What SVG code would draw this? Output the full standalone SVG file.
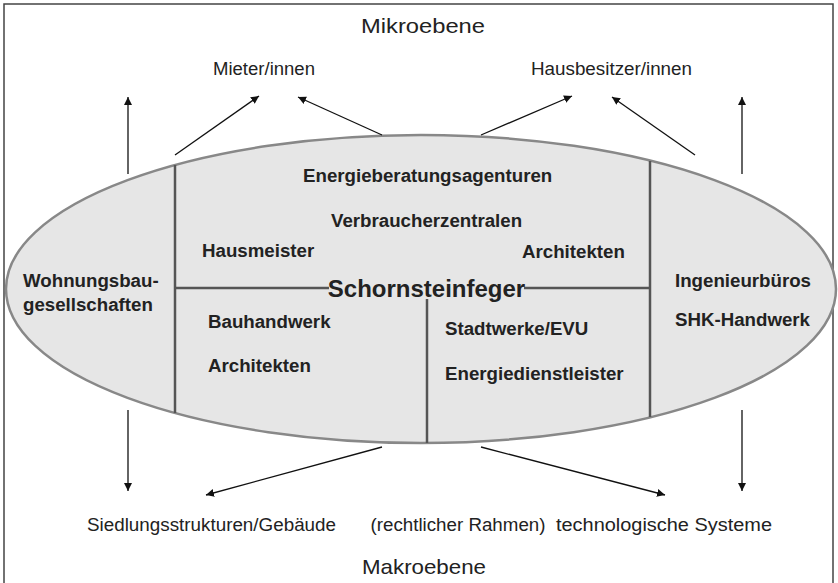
<svg xmlns="http://www.w3.org/2000/svg" width="838" height="583" viewBox="0 0 838 583">
  <defs>
    <marker id="arrow" viewBox="0 0 10 10" refX="10" refY="5" markerWidth="8" markerHeight="8" markerUnits="userSpaceOnUse" orient="auto">
      <path d="M0,0 L10,5 L0,10 z" fill="#111"/>
    </marker>
    <style>
      .frame { fill: none; stroke: #444; stroke-width: 1.5; }
      .oval { fill: #e6e6e6; stroke: #888; stroke-width: 2.5; }
      .divider { stroke: #555; stroke-width: 2.5; fill: none; }
      .conn { stroke: #111; stroke-width: 1.3; fill: none; marker-end: url(#arrow); }
      .lbl { font-family: "Liberation Sans", Arial, sans-serif; font-size: 17.5px; fill: #222; text-anchor: middle; }
      .lvl { font-family: "Liberation Sans", Arial, sans-serif; font-size: 21px; fill: #222; text-anchor: middle; }
      .actor { font-family: "Liberation Sans", Arial, sans-serif; font-size: 18.7px; font-weight: bold; fill: #222; }
      .big { font-family: "Liberation Sans", Arial, sans-serif; font-size: 24px; font-weight: bold; fill: #222; text-anchor: middle; }
    </style>
  </defs>

  <rect width="838" height="583" fill="#fff"/>
  <path class="frame" d="M4,590 V4 H833 V590"/>

  <!-- levels -->
  <g id="mikroebene"><text class="lvl" x="423" y="33" textLength="124" lengthAdjust="spacingAndGlyphs">Mikroebene</text></g>
  <g id="makroebene"><text class="lvl" x="424" y="574" textLength="124" lengthAdjust="spacingAndGlyphs">Makroebene</text></g>

  <!-- micro level actors -->
  <g id="mieter"><text class="lbl" x="264" y="75" textLength="102" lengthAdjust="spacingAndGlyphs">Mieter/innen</text></g>
  <g id="hausbesitzer"><text class="lbl" x="611.5" y="75" textLength="161" lengthAdjust="spacingAndGlyphs">Hausbesitzer/innen</text></g>

  <!-- macro level -->
  <g id="siedlung"><text class="lbl" x="211.5" y="531" textLength="249" lengthAdjust="spacingAndGlyphs">Siedlungsstrukturen/Gebäude</text></g>
  <g id="rahmen"><text class="lbl" x="458" y="531" textLength="175" lengthAdjust="spacingAndGlyphs">(rechtlicher Rahmen)</text></g>
  <g id="systeme"><text class="lbl" x="664" y="531" textLength="216" lengthAdjust="spacingAndGlyphs">technologische Systeme</text></g>

  <!-- intermediary field -->
  <g id="intermediaere">
    <ellipse class="oval" cx="421" cy="289" rx="415" ry="154"/>
    <line class="divider" x1="175" y1="165" x2="175" y2="413"/>
    <line class="divider" x1="650" y1="161" x2="650" y2="417"/>
    <line class="divider" x1="175" y1="288" x2="329" y2="288"/>
    <line class="divider" x1="524" y1="288" x2="650" y2="288"/>
    <line class="divider" x1="427" y1="299" x2="427" y2="443"/>
  </g>

  <g id="wohnungsbau">
    <text class="actor" x="23" y="287">Wohnungsbau-</text>
    <text class="actor" x="23" y="311">gesellschaften</text>
  </g>
  <g id="energieberatung"><text class="actor" x="303" y="182">Energieberatungsagenturen</text></g>
  <g id="verbraucher"><text class="actor" x="331" y="227">Verbraucherzentralen</text></g>
  <g id="hausmeister"><text class="actor" x="202" y="257">Hausmeister</text></g>
  <g id="architekten-oben"><text class="actor" x="522" y="258">Architekten</text></g>
  <g id="schornsteinfeger"><text class="big" x="426.5" y="297">Schornsteinfeger</text></g>
  <g id="bauhandwerk"><text class="actor" x="208" y="328">Bauhandwerk</text></g>
  <g id="architekten-unten"><text class="actor" x="208" y="372">Architekten</text></g>
  <g id="stadtwerke"><text class="actor" x="445" y="335">Stadtwerke/EVU</text></g>
  <g id="energiedienstleister"><text class="actor" x="445" y="380">Energiedienstleister</text></g>
  <g id="ingenieurbueros"><text class="actor" x="675" y="287">Ingenieurbüros</text></g>
  <g id="shk"><text class="actor" x="675" y="326">SHK-Handwerk</text></g>

  <!-- connectors -->
  <g id="connectors">
    <line class="conn" x1="128" y1="174" x2="128" y2="97"/>
    <line class="conn" x1="175" y1="155" x2="259" y2="96"/>
    <line class="conn" x1="382" y1="135" x2="298" y2="97"/>
    <line class="conn" x1="481" y1="135" x2="572" y2="96"/>
    <line class="conn" x1="695" y1="155" x2="612" y2="97"/>
    <line class="conn" x1="742" y1="174" x2="742" y2="97"/>
    <line class="conn" x1="128" y1="410" x2="128" y2="491"/>
    <line class="conn" x1="382" y1="447" x2="206" y2="495"/>
    <line class="conn" x1="481" y1="447" x2="665" y2="495"/>
    <line class="conn" x1="742" y1="410" x2="742" y2="491"/>
  </g>
</svg>
